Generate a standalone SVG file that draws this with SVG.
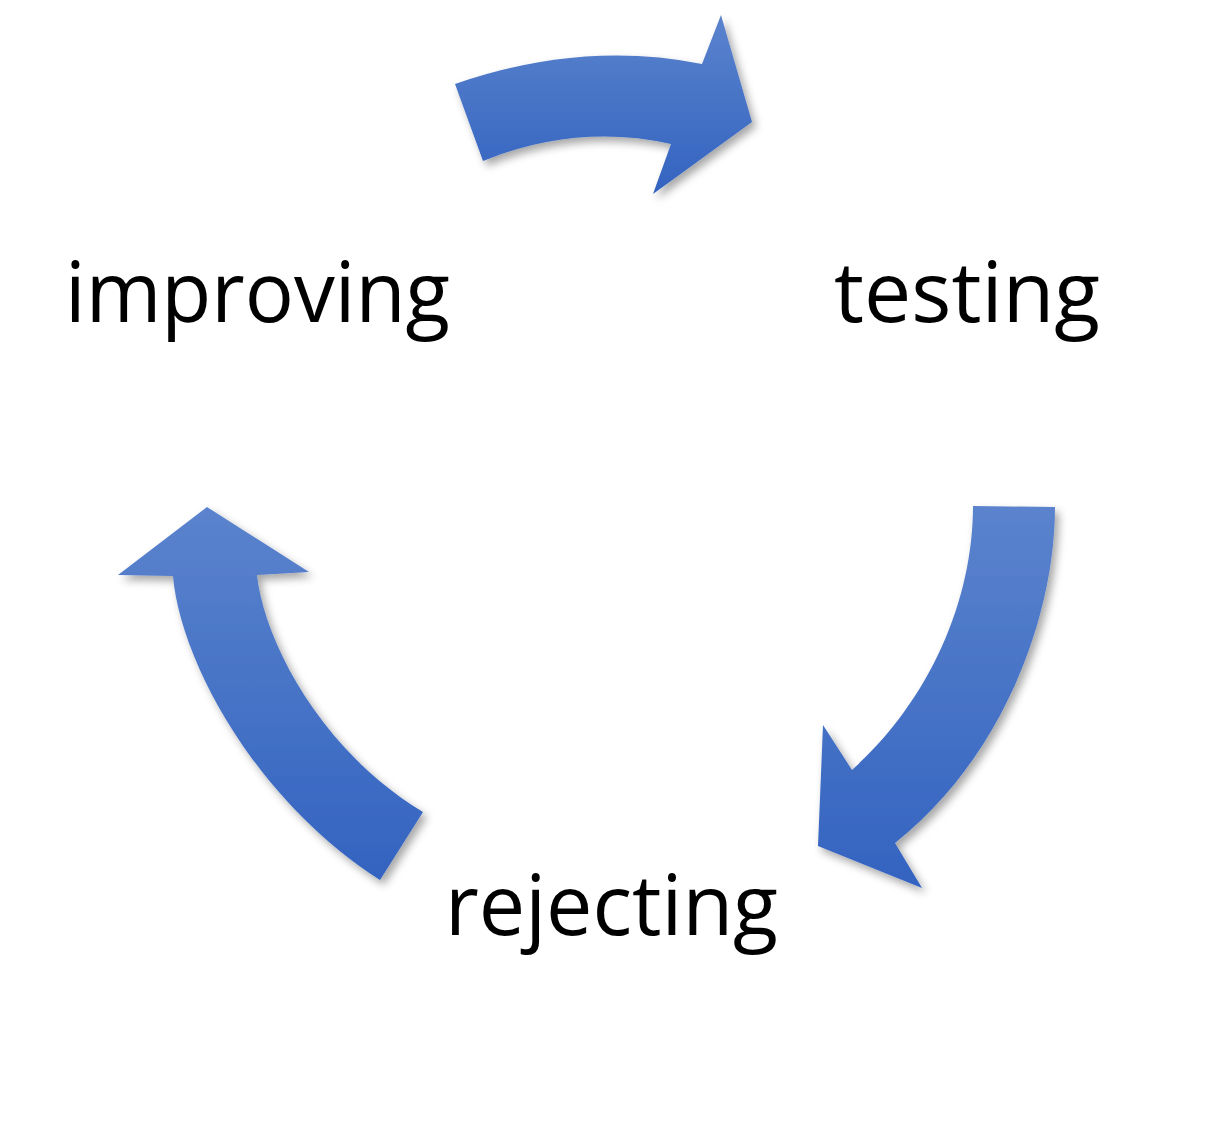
<svg xmlns="http://www.w3.org/2000/svg" width="1220" height="1122" viewBox="0 0 1220 1122">
<style>
.arrow{fill:url(#blue);filter:url(#shadow);}
.lbl{font-family:"Open Sans","Liberation Sans",sans-serif;font-size:84px;fill:#000;}
</style>
<defs>
<linearGradient id="blue" x1="0" y1="0" x2="0" y2="1">
<stop offset="0" stop-color="#5b83cd"/>
<stop offset="1" stop-color="#3363c0"/>
</linearGradient>
<filter id="shadow" x="-20%" y="-20%" width="140%" height="140%">
<feDropShadow dx="4" dy="5" stdDeviation="4" flood-color="#000" flood-opacity="0.35"/>
</filter>
</defs>
<rect width="1220" height="1122" fill="#fff"/>
<g id="connectors">
<path id="arrow-improving-testing" class="arrow" d="M455,84 Q582,40 702,64 L721,15 L752,122 L653,194 L671,144 Q577,123 483,161 Z"/>
<path id="arrow-testing-rejecting" class="arrow" d="M973,506 L1055,507 C1055,620 1000,760 895,843 L922,888 L818,846 L823,725 L852,770 C930,700 973,600 973,506 Z"/>
<path id="arrow-rejecting-improving" class="arrow" d="M207,507 L309,572 L257,575 C264,640 320,750 423,812 L380,880 C255,800 180,660 173,576 L118,575 Z"/>
</g>
<g id="improving">
<text class="lbl" x="65" y="322" textLength="385" lengthAdjust="spacingAndGlyphs">improving</text>
</g>
<g id="testing">
<text class="lbl" x="834" y="322" textLength="266" lengthAdjust="spacingAndGlyphs">testing</text>
</g>
<g id="rejecting">
<text class="lbl" x="445" y="935" textLength="333" lengthAdjust="spacingAndGlyphs">rejecting</text>
</g>
</svg>
